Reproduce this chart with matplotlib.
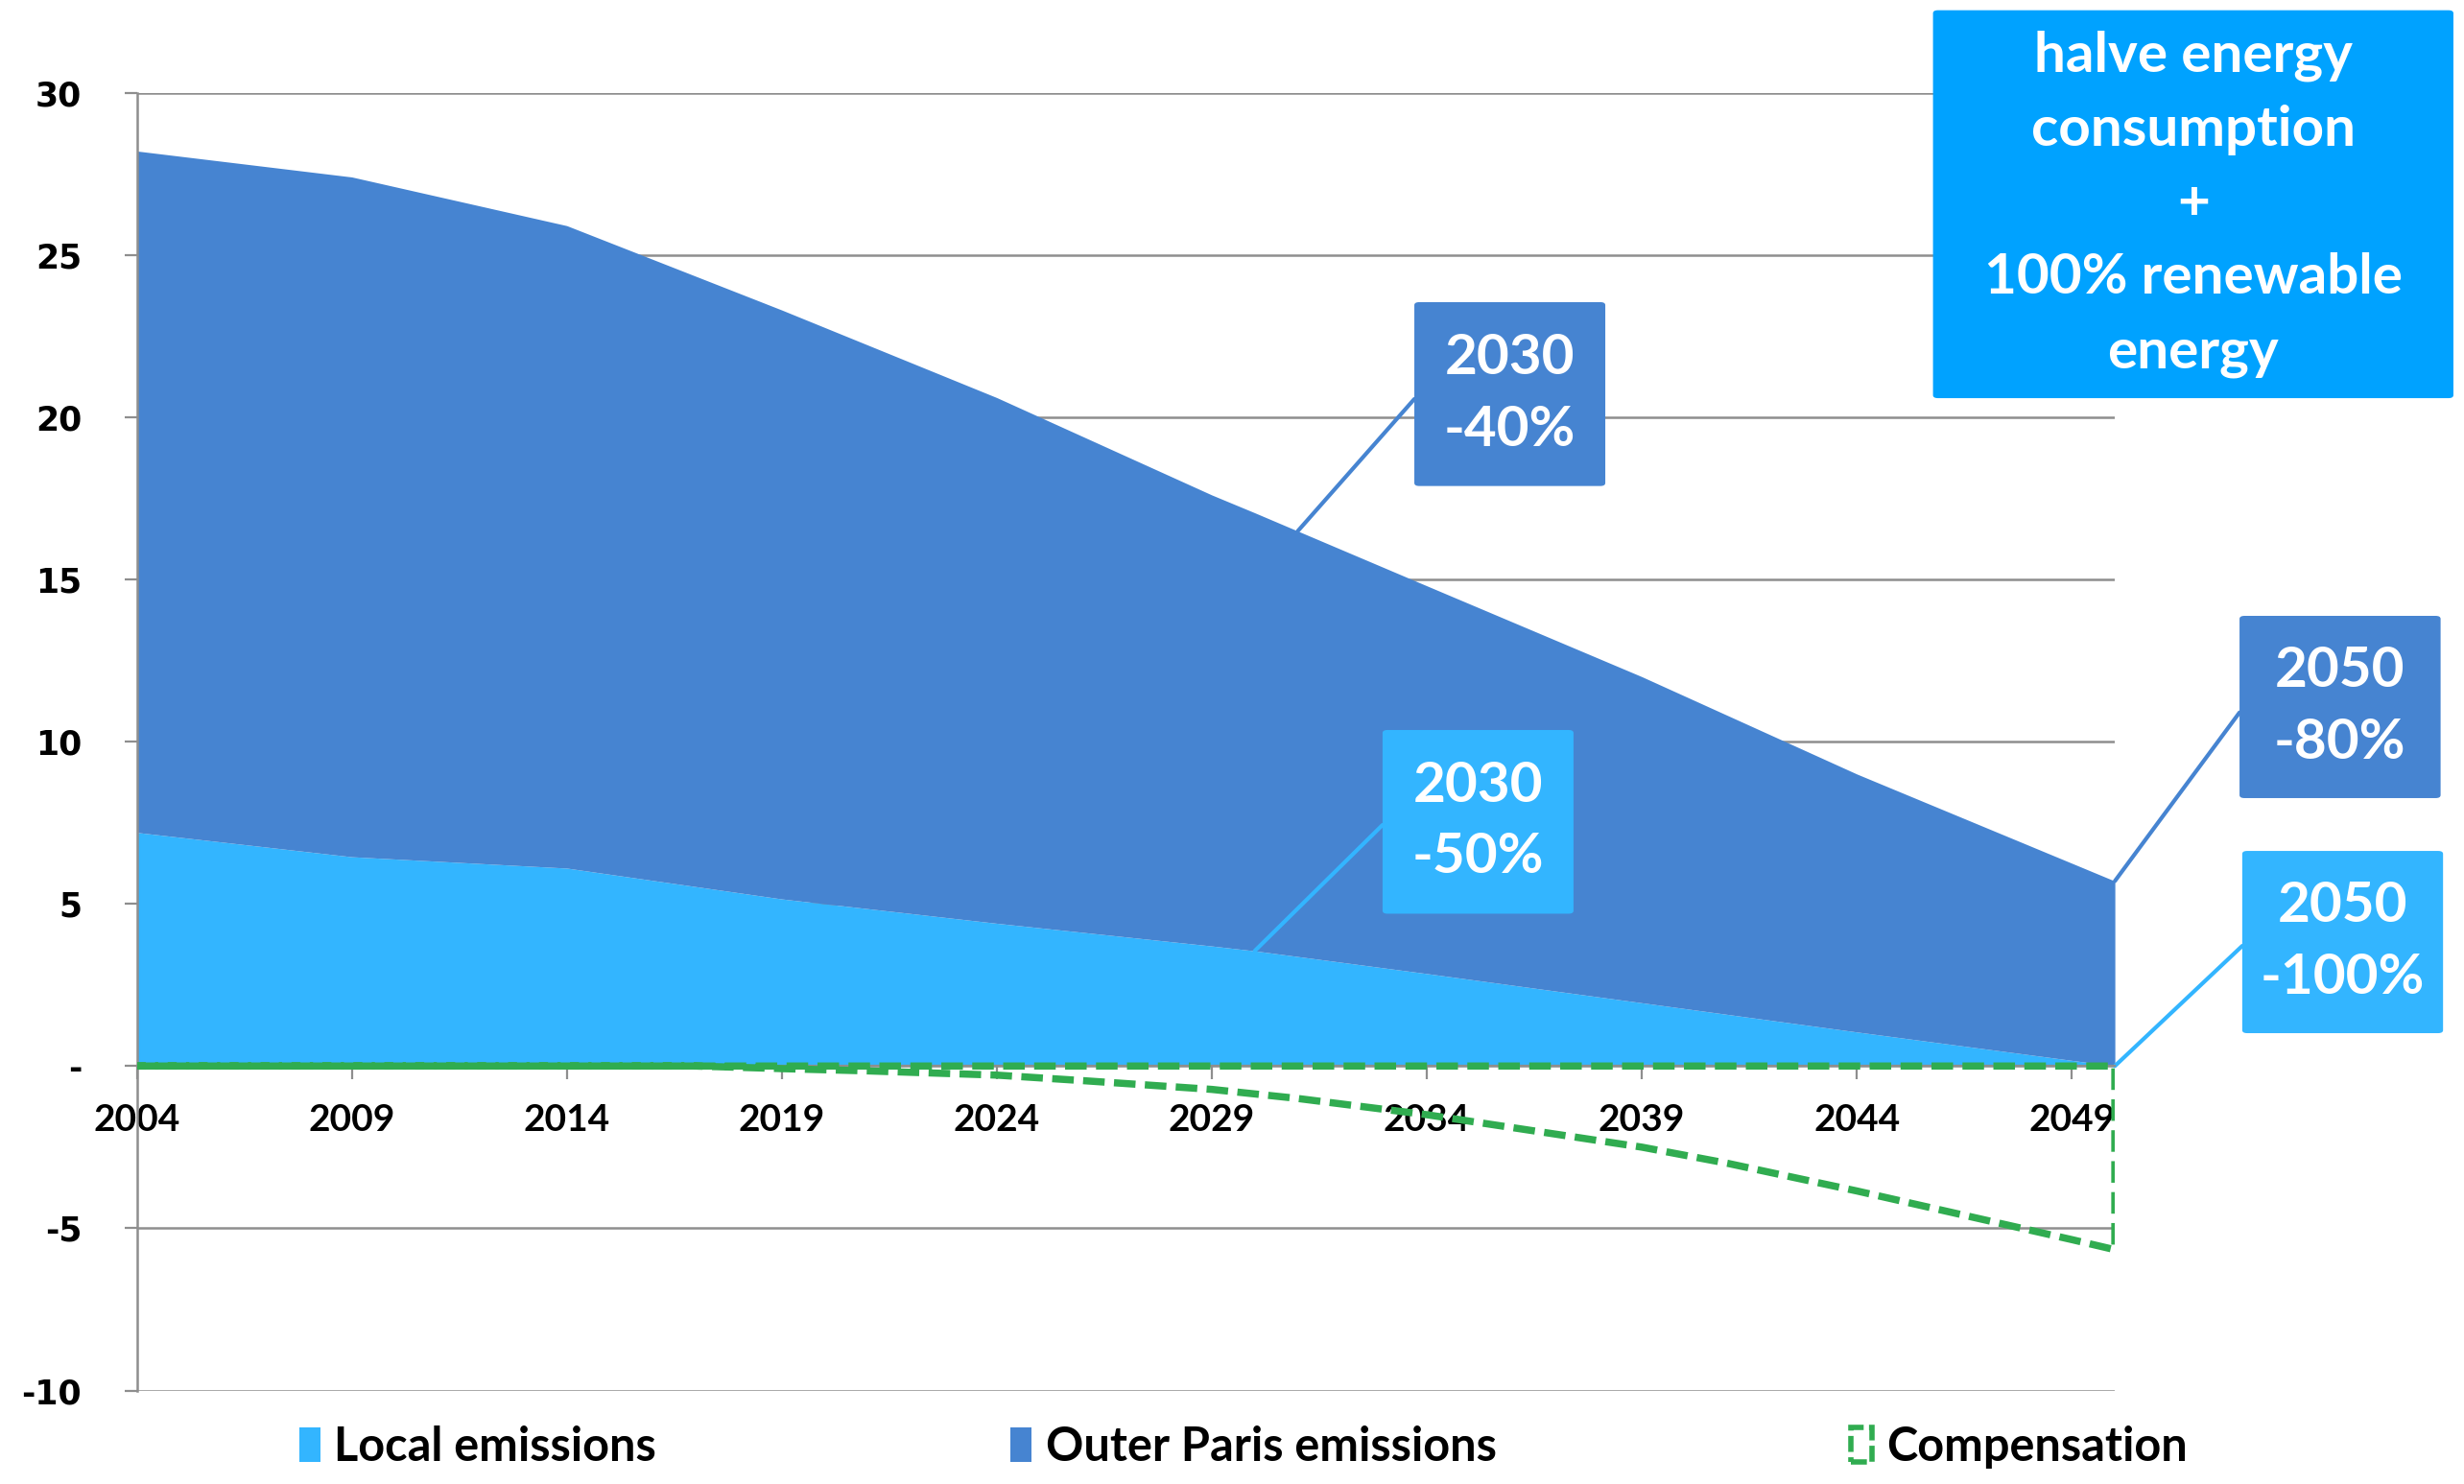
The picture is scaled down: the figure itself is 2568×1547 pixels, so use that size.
import numpy as np
import matplotlib
matplotlib.use("Agg")
import matplotlib.pyplot as plt
from matplotlib.patches import Patch, FancyBboxPatch

plt.rcParams['font.family'] = ['Lato', 'DejaVu Sans']
plt.rcParams['font.weight'] = 'bold'

# emissions (stacked areas)
years = [2004, 2009, 2014, 2019, 2024, 2029, 2030, 2034, 2039, 2044, 2050]
local = [7.2, 6.45, 6.1, 5.15, 4.4, 3.7, 3.55, 2.85, 1.95, 1.05, 0.0]
outer = [21.0, 20.95, 19.8, 18.15, 16.2, 13.9, 13.5, 11.95, 10.05, 7.95, 5.7]

# compensation (negative area, dashed outline)
comp_years = [2004, 2017, 2019, 2021, 2024, 2026, 2029, 2031, 2034, 2036, 2039,
              2041, 2044, 2046, 2049, 2050]
comp = [0, 0, -0.08, -0.15, -0.28, -0.45, -0.72, -1.0, -1.5, -1.9, -2.5,
        -3.0, -3.85, -4.45, -5.35, -5.66]

xtick_years = list(range(2004, 2050, 5))
ytick_vals = list(range(-10, 31, 5))
ytick_labels = ['-10', '-5', '-', '5', '10', '15', '20', '25', '30']

c_local = '#33B5FF'
c_outer = '#4684D1'
c_comp = '#30AC50'
c_box = '#00A2FF'
c_grid = '#8e8e8e'

fig = plt.figure(figsize=(12.84, 7.735), dpi=200)
ax = fig.add_axes([0.0555, 0.0630, 0.8028, 0.8746])

years_a = np.array(years)
local_a = np.array(local)
total_a = local_a + np.array(outer)

ax.fill_between(years_a, 0, local_a, color=c_local, lw=0, zorder=2)
ax.fill_between(years_a, local_a, total_a, color=c_outer, lw=0, zorder=2)
ax.fill_between(comp_years, 0, comp, facecolor='none', edgecolor=c_comp,
                linestyle=(0, (3.0, 1.3)), linewidth=2.7, zorder=4)

# spines first: set_position resets the ticks
for s in ['top', 'right']:
    ax.spines[s].set_visible(False)
ax.spines['bottom'].set_position(('data', 0))
ax.spines['bottom'].set_color(c_grid)
ax.spines['bottom'].set_zorder(3)
ax.spines['left'].set_color(c_grid)
ax.spines['left'].set_linewidth(0.9)

ax.set_xlim(2004, 2050)
ax.set_ylim(-10, 30)
ax.set_yticks(ytick_vals)
ax.set_yticklabels(ytick_labels, fontfamily='DejaVu Sans', fontweight='bold', fontsize=12.5)
ax.set_xticks(xtick_years)
ax.set_xticklabels([str(y) for y in xtick_years], fontsize=14, fontweight='bold')

ax.grid(axis='y', color=c_grid, lw=0.9)
ax.set_axisbelow(True)
ax.tick_params(axis='y', length=4.7, color=c_grid, pad=16)
ax.tick_params(axis='x', length=5, color=c_grid, pad=9)

# annotation boxes
def box(x0, y0, w, h, color, text, size, ls=1.5):
    p = FancyBboxPatch((x0, y0), w, h, boxstyle='round,pad=0,rounding_size=0.002',
                       transform=fig.transFigure, facecolor=color, edgecolor='none')
    fig.patches.append(p)
    fig.text(x0 + w / 2, y0 + h / 2, text, ha='center', va='center', color='white',
             fontsize=size, fontweight='bold', linespacing=ls)

def leader(year, yvals, xy_fig, color):
    yv = np.interp(year, years_a, yvals)
    ax.annotate('', xy=(year, yv), xycoords='data', xytext=xy_fig,
                textcoords='figure fraction',
                arrowprops=dict(arrowstyle='-', color=color, lw=1.5,
                                shrinkA=0, shrinkB=0), annotation_clip=False)

box(0.7845, 0.7317, 0.2112, 0.2614, c_box,
    'halve energy\nconsumption\n+\n100% renewable\nenergy', 21, 1.56)
box(0.574, 0.6725, 0.0775, 0.1239, c_outer, '2030\n-40%', 21)
box(0.5611, 0.3843, 0.0775, 0.1238, c_local, '2030\n-50%', 21)
box(0.9089, 0.4622, 0.0816, 0.1228, c_outer, '2050\n-80%', 21)
box(0.9100, 0.3038, 0.0815, 0.1228, c_local, '2050\n-100%', 21)

leader(2031, total_a, (0.574, 0.7311), c_outer)
leader(2030, local_a, (0.5611, 0.4441), c_local)
leader(2050, total_a, (0.9089, 0.5199), c_outer)
leader(2050, local_a, (0.9100, 0.3626), c_local)

handles = [Patch(facecolor=c_local, edgecolor='none', label='Local emissions'),
           Patch(facecolor=c_outer, edgecolor='none', label='Outer Paris emissions'),
           Patch(facecolor='none', edgecolor=c_comp, linestyle=(0, (3, 1)), lw=2,
                 label='Compensation')]
fig.legend(handles=handles, loc='center', bbox_to_anchor=(0.5045, 0.025), ncol=3,
           frameon=False, fontsize=17.5, handlelength=0.45, handleheight=0.75,
           handletextpad=0.3, columnspacing=7.6)

fig.savefig('out.png', dpi=200)
